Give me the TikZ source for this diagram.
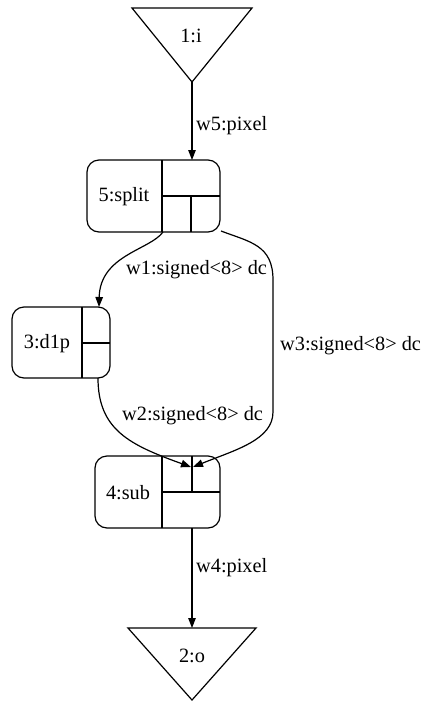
\documentclass[tikz,border=0pt]{standalone}
\usepackage{fontspec}
\setmainfont{Liberation Serif}
\newfontfamily\lserif{Liberation Serif}
\usetikzlibrary{arrows.meta}
\begin{document}
\begin{tikzpicture}[x=1pt,y=-1pt,
  rec/.style={draw, line width=1.2pt, rounded corners=12pt, inner sep=0},
  txt/.style={inner sep=0, font=\lserif\fontsize{20.3}{24}\selectfont},
  lbl/.style={txt, anchor=west},
  div/.style={draw, line width=1.2pt},
  edge/.style={draw, line width=1.2pt, -{Triangle[length=10pt,width=7.5pt]}},
  tri/.style={draw, line width=1.2pt, line join=miter}]
\useasboundingbox (0,0) rectangle (427,702);

% input triangle
\draw[tri] (132,8) -- (252,8) -- (192,82) -- cycle;
\coordinate (iapex) at (192,82);
\node[txt] (i) at (191,36) {1:i};

% output triangle
\draw[tri] (128,628) -- (256,628) -- (192,700) -- cycle;
\coordinate (otop) at (192,628);
\node[txt] (o) at (192,656) {2:o};

% 5:split
\node[rec, minimum width=133pt, minimum height=72pt] (split) at (153.5,196) {};
\node[txt] (splitt) at (124,197) {5:split};
\draw[div] (162,160) -- (162,232);
\draw[div] (162,196) -- (220,196);
\draw[div] (191,196) -- (191,232);
\coordinate (splitin) at (192,160);
\coordinate (splitw1) at (163,232);
\coordinate (splitw3) at (221,231);

% 3:d1p
\node[rec, minimum width=98pt, minimum height=71pt] (d1p) at (61,342.5) {};
\node[txt] (d1pt) at (47,344) {3:d1p};
\draw[div] (82,307) -- (82,378);
\draw[div] (82,343) -- (110,343);
\coordinate (d1pin) at (99,307);
\coordinate (d1pout) at (98,378);

% 4:sub
\node[rec, minimum width=125pt, minimum height=72pt] (sub) at (157.5,492) {};
\node[txt] (subt) at (128,493) {4:sub};
\draw[div] (162,456) -- (162,528);
\draw[div] (162,492) -- (220,492);
\draw[div] (192,456) -- (192,492);
\coordinate (subinA) at (191,467);
\coordinate (subinB) at (193,467);
\coordinate (subout) at (192,528);

% edges
\draw[edge] (iapex) -- (splitin);
\node[lbl] (w5) at (196,126) {w5:pixel};

\draw[edge] (splitw1) .. controls (150,250) and (100,255) .. (d1pin);
\node[lbl] (w1) at (126,270) {w1:signed<8> dc};

\draw[edge] (splitw3) .. controls (250,242) and (273,245) .. (273,280)
  -- (273,412) .. controls (273,440) and (235,450) .. (subinB);
\node[lbl] (w3) at (280,346) {w3:signed<8> dc};

\draw[edge] (d1pout) .. controls (98,430) and (130,445) .. (subinA);
\node[lbl] (w2) at (122,416) {w2:signed<8> dc};

\draw[edge] (subout) -- (otop);
\node[lbl] (w4) at (196,568) {w4:pixel};
\end{tikzpicture}
\end{document}
